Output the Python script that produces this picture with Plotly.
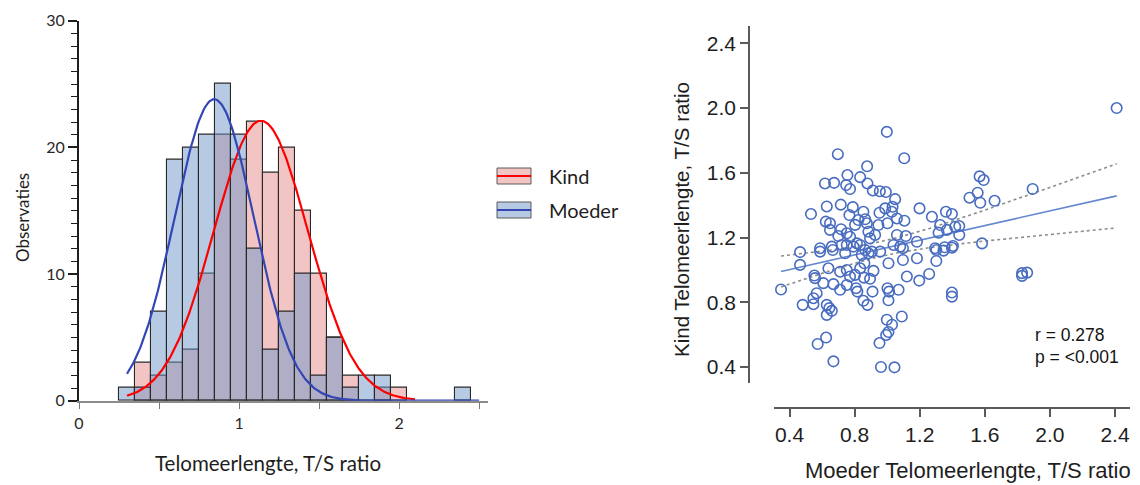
import numpy as np
import plotly.graph_objects as go

# ---------------- Histogram data ----------------
bin_centers = [0.3, 0.4, 0.5, 0.6, 0.7, 0.8, 0.9, 1.0, 1.1, 1.2, 1.3, 1.4,
               1.5, 1.6, 1.7, 1.8, 1.9, 2.0, 2.1, 2.2, 2.3, 2.4]
kind_counts = [0, 3, 2, 3, 4, 10, 21, 19, 22, 18, 20, 15,
               10, 5, 2, 0, 1, 1, 0, 0, 0, 0]
moeder_counts = [1, 1, 7, 19, 20, 21, 25, 21, 12, 4, 7, 10,
                 2, 5, 1, 2, 2, 0, 0, 0, 0, 1]
bin_width = 0.1

# Gaussian fits (mean, sd, peak height, x-span)
kind_fit = dict(mean=1.137, sd=0.294, peak=22.1, x0=0.30, x1=2.10)
moeder_fit = dict(mean=0.845, sd=0.248, peak=23.8, x0=0.30, x1=2.50)

hist_xticks = [0, 1, 2]
hist_yticks = [0, 10, 20, 30]

# ---------------- Scatter data ----------------
moeder_x = [2.41, 0.998, 0.697, 1.105, 0.877, 0.756, 0.834, 1.568, 1.593, 0.618,
            0.674, 0.748, 0.879, 0.772, 0.912, 0.955, 0.992, 1.894, 1.556, 1.506,
            1.049, 1.572, 1.660, 1.033, 1.029, 0.532, 0.629, 0.715, 0.789, 0.768,
            0.854, 0.953, 0.988, 1.199, 1.275, 1.361, 1.398, 1.060, 1.106, 0.623,
            0.649, 0.823, 0.865, 0.875, 0.803, 0.946, 1.002, 1.326, 1.418, 1.443,
            0.649, 0.717, 0.752, 0.700, 0.772, 0.885, 0.926, 0.895, 1.316, 1.367,
            1.443, 1.060, 1.115, 1.183, 1.583, 0.588, 0.660, 0.752, 0.814, 0.465,
            1.080, 1.295, 1.353, 1.404, 1.302, 1.346, 1.398, 1.097, 1.039, 0.588,
            0.666, 0.721, 0.793, 0.834, 0.865, 0.906, 0.957, 0.742, 0.844, 0.885,
            0.465, 1.008, 0.860, 1.097, 1.183, 1.302, 0.639, 0.711, 0.752, 0.772,
            0.803, 0.834, 0.858, 0.895, 0.916, 0.553, 0.557, 1.121, 1.197, 1.258,
            1.829, 1.860, 1.829, 0.348, 0.608, 0.670, 0.711, 0.752, 0.809, 0.817,
            0.910, 1.002, 1.012, 1.070, 1.398, 1.398, 0.567, 0.547, 0.481, 0.547,
            0.629, 0.645, 0.660, 0.629, 0.854, 0.879, 1.008, 1.090, 0.998, 1.030,
            1.008, 0.994, 0.625, 0.573, 0.953, 0.670, 0.962, 1.045]
kind_y = [2.000, 1.853, 1.715, 1.690, 1.640, 1.586, 1.573, 1.578, 1.555, 1.534,
          1.538, 1.524, 1.534, 1.500, 1.491, 1.486, 1.481, 1.500, 1.477, 1.446,
          1.437, 1.415, 1.427, 1.390, 1.359, 1.345, 1.392, 1.403, 1.388, 1.339,
          1.359, 1.353, 1.380, 1.380, 1.328, 1.359, 1.345, 1.318, 1.304, 1.298,
          1.288, 1.308, 1.313, 1.288, 1.278, 1.277, 1.288, 1.277, 1.267, 1.271,
          1.247, 1.251, 1.226, 1.209, 1.205, 1.236, 1.216, 1.195, 1.230, 1.247,
          1.216, 1.216, 1.209, 1.174, 1.164, 1.134, 1.144, 1.154, 1.164, 1.110,
          1.144, 1.134, 1.140, 1.148, 1.123, 1.119, 1.137, 1.134, 1.154, 1.113,
          1.123, 1.154, 1.144, 1.154, 1.123, 1.113, 1.113, 1.103, 1.092, 1.103,
          1.031, 1.041, 1.041, 1.061, 1.072, 1.055, 1.010, 0.989, 0.999, 0.959,
          0.969, 1.010, 0.952, 0.945, 0.994, 0.965, 0.949, 0.959, 0.934, 0.975,
          0.980, 0.983, 0.963, 0.879, 0.918, 0.912, 0.877, 0.907, 0.887, 0.866,
          0.866, 0.887, 0.866, 0.877, 0.860, 0.835, 0.856, 0.825, 0.784, 0.788,
          0.784, 0.764, 0.747, 0.722, 0.809, 0.784, 0.812, 0.712, 0.692, 0.661,
          0.616, 0.598, 0.582, 0.542, 0.548, 0.435, 0.400, 0.398]
scatter_ticks = [0.4, 0.8, 1.2, 1.6, 2.0, 2.4]
stat_lines = ["r = 0.278", "p = <0.001"]

# ---------------- Figure ----------------
W, H = 1140, 485
OFF = 8  # page body margin of the html page
def px(x):
    return (x - OFF) / W
def py(y):
    return 1 - (y - OFF) / H

fig = go.Figure()

PINK = "rgb(242,196,196)"
BLUE_T = "rgba(109,149,201,0.5)"
EDGE = "rgb(40,40,40)"

fig.add_trace(go.Bar(
    x=bin_centers, y=[c if c > 0 else None for c in kind_counts], width=bin_width,
    marker=dict(color=PINK, line=dict(color=EDGE, width=1.1)),
    xaxis="x", yaxis="y", showlegend=False, name="Kind"))
fig.add_trace(go.Bar(
    x=bin_centers, y=[c if c > 0 else None for c in moeder_counts], width=bin_width,
    marker=dict(color=BLUE_T, line=dict(color=EDGE, width=1.1)),
    xaxis="x", yaxis="y", showlegend=False, name="Moeder"))

def gauss(fit):
    xs = np.linspace(fit["x0"], fit["x1"], 300)
    ys = fit["peak"] * np.exp(-0.5 * ((xs - fit["mean"]) / fit["sd"]) ** 2)
    return xs, ys

kx, ky = gauss(kind_fit)
mx, my = gauss(moeder_fit)
fig.add_trace(go.Scatter(x=kx, y=ky, mode="lines", line=dict(color="rgb(255,0,0)", width=2.2),
                         xaxis="x", yaxis="y", showlegend=False, hoverinfo="skip"))
fig.add_trace(go.Scatter(x=mx, y=my, mode="lines", line=dict(color="rgb(50,70,180)", width=2.2),
                         xaxis="x", yaxis="y", showlegend=False, hoverinfo="skip"))

# Scatter + regression with 95% CI
xa = np.array(moeder_x)
ya = np.array(kind_y)
n = len(xa)
slope, intercept = np.polyfit(xa, ya, 1)
resid = ya - (slope * xa + intercept)
s = np.sqrt(np.sum(resid ** 2) / (n - 2))
xbar = xa.mean()
sxx = np.sum((xa - xbar) ** 2)
xg = np.linspace(xa.min(), xa.max(), 200)
yg = slope * xg + intercept
half = 1.976 * s * np.sqrt(1 / n + (xg - xbar) ** 2 / sxx)

SC = "rgb(72,108,192)"
fig.add_trace(go.Scatter(x=xg, y=yg + half, mode="lines",
                         line=dict(color="rgb(140,140,140)", width=1.6, dash="dot"),
                         xaxis="x2", yaxis="y2", showlegend=False, hoverinfo="skip"))
fig.add_trace(go.Scatter(x=xg, y=yg - half, mode="lines",
                         line=dict(color="rgb(140,140,140)", width=1.6, dash="dot"),
                         xaxis="x2", yaxis="y2", showlegend=False, hoverinfo="skip"))
fig.add_trace(go.Scatter(x=xg, y=yg, mode="lines",
                         line=dict(color="rgb(100,135,205)", width=1.6),
                         xaxis="x2", yaxis="y2", showlegend=False, hoverinfo="skip"))
fig.add_trace(go.Scatter(x=moeder_x, y=kind_y, mode="markers",
                         marker=dict(symbol="circle-open", size=10.5, color=SC,
                                     line=dict(width=1.6, color=SC)),
                         xaxis="x2", yaxis="y2", showlegend=False, cliponaxis=False))

LFONT = "Lato, Open Sans, sans-serif"
RFONT = "Liberation Sans, Arial, sans-serif"

fig.update_layout(
    template="none",
    width=W, height=H, margin=dict(l=0, r=0, t=0, b=0, pad=0, autoexpand=False),
    paper_bgcolor="white", plot_bgcolor="white", barmode="overlay",
    bargap=0,
    xaxis=dict(domain=[px(79), px(488)], range=[0, 2.556], anchor="y", automargin=False,
               tickvals=hist_xticks, ticktext=[str(t) for t in hist_xticks],
               ticks="outside", ticklen=7, tickcolor="rgb(120,120,120)", tickwidth=1.2,
               minor=dict(dtick=0.5, tick0=0, ticks="outside", ticklen=7,
                          tickcolor="rgb(120,120,120)", tickwidth=1.2, showgrid=False),
               showline=True, linecolor="rgb(140,140,140)", linewidth=1.5,
               showgrid=False, zeroline=False,
               tickfont=dict(family=LFONT, size=16, color="rgb(40,40,40)")),
    yaxis=dict(domain=[py(400.7), py(20.7)], range=[0, 30], anchor="x", automargin=False,
               tickvals=hist_yticks, ticks="outside", ticklen=9,
               tickcolor="rgb(30,30,30)", tickwidth=1.6,
               minor=dict(dtick=1, tick0=0, ticks="outside", ticklen=6,
                          tickcolor="rgb(30,30,30)", tickwidth=1.4, showgrid=False),
               showline=True, linecolor="rgb(30,30,30)", linewidth=1.8,
               showgrid=False, zeroline=False,
               tickfont=dict(family=LFONT, size=16, color="rgb(40,40,40)")),
    xaxis2=dict(domain=[px(774), px(1130)], range=[0.3048, 2.492], anchor="free",
                automargin=False,
                position=py(408.3), tickvals=scatter_ticks,
                ticktext=[f"{t:.1f}" for t in scatter_ticks],
                ticks="outside", ticklen=8, tickcolor="rgb(90,90,90)", tickwidth=1.5,
                showline=True, linecolor="rgb(90,90,90)", linewidth=1.5,
                showgrid=False, zeroline=False,
                tickfont=dict(family=RFONT, size=21, color="rgb(30,30,30)")),
    yaxis2=dict(domain=[py(382.7), py(26)], range=[0.303, 2.507], anchor="free",
                automargin=False,
                position=px(749), tickvals=scatter_ticks,
                ticktext=[f"{t:.1f}" for t in scatter_ticks],
                ticks="outside", ticklen=8, tickcolor="rgb(90,90,90)", tickwidth=1.5,
                showline=True, linecolor="rgb(90,90,90)", linewidth=1.5,
                showgrid=False, zeroline=False,
                tickfont=dict(family=RFONT, size=21, color="rgb(30,30,30)")),
)

annotations = [
    dict(text="Observaties", x=px(22), y=py(218), textangle=-90,
         font=dict(family=LFONT, size=17, color="rgb(30,30,30)")),
    dict(text="Telomeerlengte, T/S ratio", x=px(268), y=py(463),
         font=dict(family=LFONT, size=20.5, color="rgb(30,30,30)")),
    dict(text="Kind", x=px(547), y=py(176), xanchor="left",
         font=dict(family=LFONT, size=20, color="rgb(30,30,30)")),
    dict(text="Moeder", x=px(547), y=py(210), xanchor="left",
         font=dict(family=LFONT, size=20, color="rgb(30,30,30)")),
    dict(text="Kind Telomeerlengte, T/S ratio", x=px(681), y=py(219), textangle=-90,
         font=dict(family=RFONT, size=20.5, color="rgb(30,30,30)")),
    dict(text="Moeder Telomeerlengte, T/S ratio", x=px(968), y=py(470),
         font=dict(family=RFONT, size=22, color="rgb(30,30,30)")),
    dict(text=stat_lines[0], x=px(1033), y=py(335), xanchor="left",
         font=dict(family=RFONT, size=17.5, color="rgb(20,20,20)")),
    dict(text=stat_lines[1], x=px(1033), y=py(357), xanchor="left",
         font=dict(family=RFONT, size=17.5, color="rgb(20,20,20)")),
]
for a in annotations:
    a.setdefault("xanchor", "center")
    a.update(xref="paper", yref="paper", showarrow=False, yanchor="middle")
fig.update_layout(annotations=annotations)

# custom legend symbols
shapes = []
for yc, fill, lc in [(176, PINK, "rgb(255,0,0)"), (210, "rgb(182,202,228)", "rgb(50,70,180)")]:
    shapes.append(dict(type="rect", xref="paper", yref="paper",
                       x0=px(497), x1=px(531), y0=py(yc + 8), y1=py(yc - 8),
                       fillcolor=fill, line=dict(color="rgb(90,90,90)", width=1)))
    shapes.append(dict(type="line", xref="paper", yref="paper",
                       x0=px(497), x1=px(531), y0=py(yc), y1=py(yc),
                       line=dict(color=lc, width=2.2)))
fig.update_layout(shapes=shapes)

fig.write_html("out.html")
